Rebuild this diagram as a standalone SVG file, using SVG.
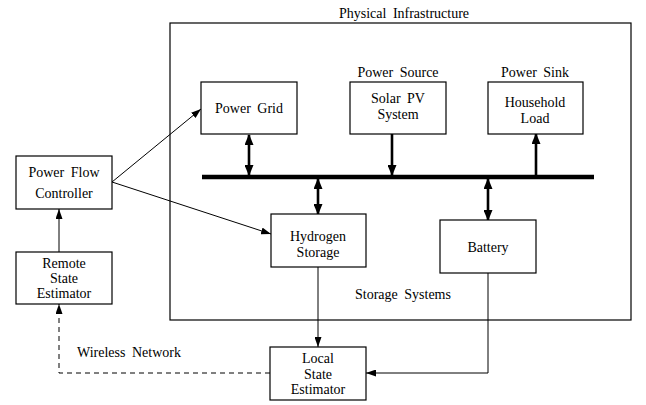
<svg xmlns="http://www.w3.org/2000/svg" width="646" height="405" viewBox="0 0 646 405">
  <style>
    .box { fill: #fff; stroke: #000; stroke-width: 1.2; }
    .frame { fill: none; stroke: #000; stroke-width: 1.2; }
    .lbl { font-family: 'Liberation Serif', 'Times New Roman', Times, 'DejaVu Serif', serif; font-size: 14px; fill: #000; text-anchor: middle; word-spacing: 3px; }
    .thin { fill: none; stroke: #000; stroke-width: 1; }
    .thick { fill: none; stroke: #000; stroke-width: 2.6; }
    .bus { stroke: #000; stroke-width: 4.5; }
    .dash { fill: none; stroke: #000; stroke-width: 1; stroke-dasharray: 5 4; }
  </style>
  <defs>
    <marker id="headThick" markerUnits="userSpaceOnUse" markerWidth="11" markerHeight="9" refX="10" refY="4.5" orient="auto-start-reverse">
      <path d="M0,0 L11,4.5 L0,9 z" fill="#000"/>
    </marker>
    <marker id="headThin" markerUnits="userSpaceOnUse" markerWidth="10" markerHeight="7" refX="10" refY="3.5" orient="auto-start-reverse">
      <path d="M0,0 L10,3.5 L0,7 z" fill="#000"/>
    </marker>
  </defs>

  <!-- physical infrastructure frame -->
  <g id="physical-infrastructure">
    <rect class="frame" x="170" y="23" width="461" height="297"/>
    <text class="lbl" x="404" y="18" font-family="Liberation Serif, serif">Physical Infrastructure</text>
    <text class="lbl" x="403" y="299" font-family="Liberation Serif, serif">Storage Systems</text>
  </g>

  <!-- connectors -->
  <g id="connectors">
    <line class="bus" x1="202" y1="177" x2="594" y2="177"/>
    <line class="thick" x1="249" y1="135" x2="249" y2="175" marker-start="url(#headThick)" marker-end="url(#headThick)"/>
    <line class="thick" x1="392" y1="134" x2="392" y2="175" marker-end="url(#headThick)"/>
    <line class="thick" x1="536" y1="179" x2="536" y2="134" marker-end="url(#headThick)"/>
    <line class="thick" x1="318" y1="179" x2="318" y2="214" marker-start="url(#headThick)" marker-end="url(#headThick)"/>
    <line class="thick" x1="488" y1="179" x2="488" y2="220" marker-start="url(#headThick)" marker-end="url(#headThick)"/>

    <line class="thin" x1="112" y1="182" x2="201" y2="109" marker-end="url(#headThin)"/>
    <line class="thin" x1="112" y1="182" x2="271" y2="234" marker-end="url(#headThin)"/>
    <line class="thin" x1="59" y1="252" x2="59" y2="209" marker-end="url(#headThin)"/>
    <line class="thin" x1="318" y1="267" x2="318" y2="347" marker-end="url(#headThin)"/>
    <polyline class="thin" points="488,273 488,373 366,373" marker-end="url(#headThin)"/>
    <polyline class="dash" points="270,373 59,373 59,304" marker-end="url(#headThin)"/>
    <text class="lbl" x="77" y="357" style="text-anchor:start">Wireless Network</text>
  </g>

  <g id="power-flow-controller">
    <rect class="box" x="16" y="156" width="96" height="53"/>
    <text class="lbl" x="64" y="177">Power Flow</text>
    <text class="lbl" x="64" y="198">Controller</text>
  </g>

  <g id="remote-state-estimator">
    <rect class="box" x="16" y="252" width="96" height="52"/>
    <text class="lbl" x="64" y="268">Remote</text>
    <text class="lbl" x="64" y="283">State</text>
    <text class="lbl" x="64" y="298">Estimator</text>
  </g>

  <g id="power-grid">
    <rect class="box" x="201" y="82" width="96" height="52"/>
    <text class="lbl" x="249" y="113">Power Grid</text>
  </g>

  <g id="solar-pv">
    <text class="lbl" x="398" y="77">Power Source</text>
    <rect class="box" x="350" y="82" width="96" height="52"/>
    <text class="lbl" x="398" y="103">Solar PV</text>
    <text class="lbl" x="398" y="119">System</text>
  </g>

  <g id="household-load">
    <text class="lbl" x="535" y="77">Power Sink</text>
    <rect class="box" x="488" y="82" width="95" height="52"/>
    <text class="lbl" x="535" y="107">Household</text>
    <text class="lbl" x="535" y="123">Load</text>
  </g>

  <g id="hydrogen-storage">
    <rect class="box" x="271" y="214" width="95" height="53"/>
    <text class="lbl" x="318" y="241">Hydrogen</text>
    <text class="lbl" x="318" y="257">Storage</text>
  </g>

  <g id="battery">
    <rect class="box" x="440" y="220" width="96" height="53"/>
    <text class="lbl" x="488" y="252">Battery</text>
  </g>

  <g id="local-state-estimator">
    <rect class="box" x="270" y="347" width="96" height="53"/>
    <text class="lbl" x="318" y="363">Local</text>
    <text class="lbl" x="318" y="379">State</text>
    <text class="lbl" x="318" y="394">Estimator</text>
  </g>
</svg>
